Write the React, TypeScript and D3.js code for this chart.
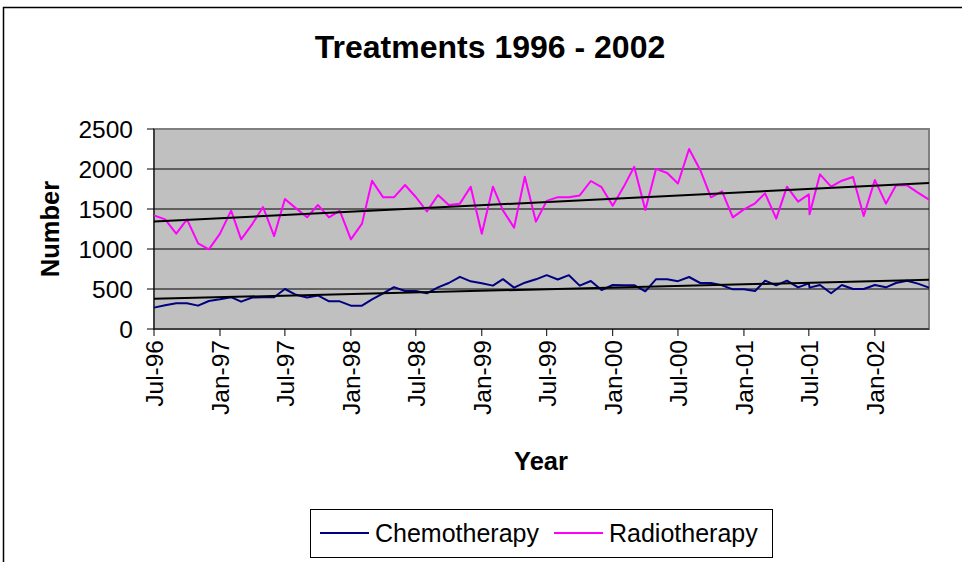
import * as d3 from "d3";

// monthly treatment counts, Jul 1996 - Jun 2002 (one extra record just after Jul 2001)
const dates = [
  "1996-07-01", "1996-08-01", "1996-09-01", "1996-10-01", "1996-11-01", "1996-12-01",
  "1997-01-01", "1997-02-01", "1997-03-01", "1997-04-01", "1997-05-01", "1997-06-01",
  "1997-07-01", "1997-08-01", "1997-09-01", "1997-10-01", "1997-11-01", "1997-12-01",
  "1998-01-01", "1998-02-01", "1998-03-01", "1998-04-01", "1998-05-01", "1998-06-01",
  "1998-07-01", "1998-08-01", "1998-09-01", "1998-10-01", "1998-11-01", "1998-12-01",
  "1999-01-01", "1999-02-01", "1999-03-01", "1999-04-01", "1999-05-01", "1999-06-01",
  "1999-07-01", "1999-08-01", "1999-09-01", "1999-10-01", "1999-11-01", "1999-12-01",
  "2000-01-01", "2000-02-01", "2000-03-01", "2000-04-01", "2000-05-01", "2000-06-01",
  "2000-07-01", "2000-08-01", "2000-09-01", "2000-10-01", "2000-11-01", "2000-12-01",
  "2001-01-01", "2001-02-01", "2001-03-01", "2001-04-01", "2001-05-01", "2001-06-01",
  "2001-07-01", "2001-07-03", "2001-08-01", "2001-09-01", "2001-10-01", "2001-11-01", "2001-12-01",
  "2002-01-01", "2002-02-01", "2002-03-01", "2002-04-01", "2002-05-01", "2002-06-01",
];

const chemotherapy = [
  267, 296, 321, 321, 292, 350,
  371, 398, 342, 394, 396, 396, 500, 427, 394, 419, 346, 346,
  292, 292, 371, 444, 523, 475, 475, 446, 521, 575, 652, 596,
  571, 542, 623, 517, 579, 621, 673, 619, 673, 542, 600, 487,
  550, 548, 548, 471, 623, 623, 598, 650, 575, 575, 546, 496,
  496, 475, 604, 546, 604, 521, 571, 517, 550, 446, 550, 500, 500,
  550, 521, 575, 604, 567, 517,
];

const radiotherapy = [
  1421, 1371, 1192, 1371, 1071, 996,
  1192, 1479, 1121, 1312, 1525, 1162, 1625, 1508, 1396, 1550, 1396, 1479,
  1121, 1317, 1852, 1646, 1646, 1800, 1650, 1470, 1675, 1550, 1567, 1779,
  1190, 1779, 1483, 1267, 1904, 1342, 1602, 1648, 1648, 1669, 1850, 1773,
  1540, 1780, 2027, 1488, 2002, 1950, 1819, 2250, 1988, 1646, 1721, 1396,
  1496, 1571, 1696, 1380, 1779, 1592, 1683, 1433, 1933, 1779, 1854, 1900, 1412,
  1862, 1567, 1796, 1796, 1704, 1617,
];

const yTicks = [0, 500, 1000, 1500, 2000, 2500];
const xStart = "1996-07-01";
const xEnd = "2002-06-01";

const seriesNames = ["Chemotherapy", "Radiotherapy"];
const seriesColors = ["#000080", "#ff00ff"];

const W = 962, H = 562;
const left = 154, right = 929, top = 129, bottom = 329;
const font = "'Liberation Sans', Arial, sans-serif";

const parse = d3.timeParse("%Y-%m-%d");

// least squares line against the date, like the spreadsheet trendline
function trend(xs: Date[], ys: number[]) {
  const tx = xs.map((d) => d.getTime());
  const mx = d3.mean(tx)!, my = d3.mean(ys)!;
  let num = 0, den = 0;
  tx.forEach((t, i) => {
    num += (t - mx) * (ys[i] - my);
    den += (t - mx) * (t - mx);
  });
  const b = num / den;
  return (d: Date) => my + b * (d.getTime() - mx);
}

export default function App() {
  const xs = dates.map((d) => parse(d)!);
  const x = d3.scaleTime([parse(xStart)!, parse(xEnd)!], [left, right]);
  const y = d3.scaleLinear([0, 2500], [bottom, top]);
  const xTicks = d3.timeMonth.every(6)!.range(parse(xStart)!, parse(xEnd)!);
  const fmt = d3.timeFormat("%b-%y");

  const series = [chemotherapy, radiotherapy];
  const line = d3.line<number>((_, i) => x(xs[i]), (v) => y(v));

  return (
    <div style={{ position: "fixed", left: 0, top: 0 }}>
      <svg width={W} height={H} style={{ display: "block", background: "#fff" }} fontFamily={font}>
        <rect x={3.5} y={7.5} width={1000} height={600} fill="#fff" stroke="#000" strokeWidth={1.5} />
        <text x={490} y={58} textAnchor="middle" fontSize={32} fontWeight="bold">
          Treatments 1996 - 2002
        </text>

        <rect x={left} y={top} width={right - left} height={bottom - top} fill="#c0c0c0" stroke="#808080" strokeWidth={2} />
        {yTicks.slice(1, -1).map((t) => (
          <line key={t} x1={left} x2={right} y1={y(t)} y2={y(t)} stroke="#000" strokeWidth={1} />
        ))}

        {/* y axis */}
        <line x1={left} x2={left} y1={top} y2={bottom} stroke="#000" strokeWidth={1} />
        {yTicks.map((t) => (
          <g key={t}>
            <line x1={left - 7} x2={left} y1={y(t)} y2={y(t)} stroke="#000" />
            <text x={133} y={y(t)} dy="0.36em" textAnchor="end" fontSize={24.5}>{t}</text>
          </g>
        ))}
        <text transform={`translate(50,${(top + bottom) / 2}) rotate(-90)`} textAnchor="middle" dy="0.36em" fontSize={25.5} fontWeight="bold">
          Number
        </text>

        {/* x axis */}
        <line x1={left} x2={right} y1={bottom} y2={bottom} stroke="#000" strokeWidth={1} />
        {xTicks.map((d) => (
          <g key={+d}>
            <line x1={x(d)} x2={x(d)} y1={bottom} y2={bottom + 7} stroke="#000" />
            <text transform={`translate(${x(d)},${bottom + 11}) rotate(-90)`} textAnchor="end" dy="0.36em" fontSize={24.5}>
              {fmt(d)}
            </text>
          </g>
        ))}
        <text x={541} y={470} textAnchor="middle" fontSize={25.5} fontWeight="bold">Year</text>

        {series.map((s, k) => (
          <path key={k} d={line(s)!} fill="none" stroke={seriesColors[k]} strokeWidth={2} strokeLinejoin="round" />
        ))}
        {series.map((s, k) => {
          const f = trend(xs, s);
          const a = xs[0], b = xs[xs.length - 1];
          return <line key={"t" + k} x1={x(a)} x2={x(b)} y1={y(f(a))} y2={y(f(b))} stroke="#000" strokeWidth={2} />;
        })}

        {/* legend */}
        <rect x={310.5} y={509.5} width={462} height={48} fill="#fff" stroke="#000" strokeWidth={1} />
        {seriesNames.map((n, k) => {
          const lx = k === 0 ? 320 : 554;
          return (
            <g key={n}>
              <line x1={lx} x2={lx + 49} y1={533} y2={533} stroke={seriesColors[k]} strokeWidth={2} />
              <text x={lx + 55} y={533} dy="0.36em" fontSize={25}>{n}</text>
            </g>
          );
        })}
      </svg>
    </div>
  );
}
